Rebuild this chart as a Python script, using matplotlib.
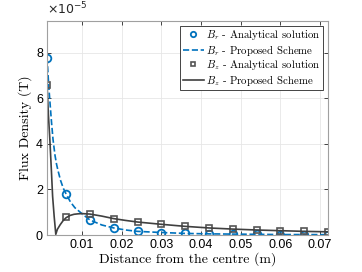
import numpy as np
import matplotlib
matplotlib.use("Agg")
import matplotlib.pyplot as plt

# analytical samples (r in m, B in 1e-5 T)
r_ana = [0.0012, 0.006, 0.012, 0.018, 0.024, 0.030, 0.036, 0.042,
         0.048, 0.054, 0.060, 0.066, 0.072]
br_ana = [7.78, 1.80, 0.64, 0.30, 0.16, 0.11, 0.07, 0.05,
          0.04, 0.03, 0.02, 0.02, 0.015]
bz_ana = [6.60, 0.78, 0.92, 0.72, 0.57, 0.48, 0.38, 0.31,
          0.26, 0.22, 0.19, 0.16, 0.14]

# proposed scheme curves
r_br = [0.0012, 0.0016, 0.0019, 0.0023, 0.0027, 0.0032, 0.0036, 0.004,
        0.0046, 0.0053, 0.006, 0.0071, 0.0082, 0.0099, 0.012, 0.015,
        0.018, 0.021, 0.024, 0.030, 0.036, 0.042, 0.048, 0.054, 0.060,
        0.066, 0.072]
br_sch = [7.80, 6.60, 5.90, 5.00, 4.20, 3.50, 3.10, 2.80,
          2.40, 2.05, 1.80, 1.45, 1.20, 0.95, 0.66, 0.44,
          0.31, 0.22, 0.16, 0.11, 0.07, 0.05, 0.04, 0.03, 0.02,
          0.02, 0.015]
r_bz = [0.0012, 0.0015, 0.0019, 0.0023, 0.0026, 0.0030, 0.0034, 0.0038,
        0.0045, 0.0052, 0.006, 0.007, 0.008, 0.009, 0.010, 0.012, 0.015,
        0.018, 0.021, 0.024, 0.030, 0.036, 0.042, 0.048, 0.054, 0.060,
        0.066, 0.072]
bz_sch = [6.60, 5.40, 4.20, 2.80, 1.70, 0.80, 0.03, 0.25,
          0.45, 0.62, 0.76, 0.86, 0.91, 0.93, 0.94, 0.92, 0.83,
          0.72, 0.64, 0.57, 0.47, 0.38, 0.31, 0.26, 0.22, 0.19,
          0.16, 0.14]

labels = [r"$B_r$ - Analytical solution", r"$B_r$ - Proposed Scheme",
          r"$B_z$ - Analytical solution", r"$B_z$ - Proposed Scheme"]

blue = "#0072BD"
grey = "#404040"

plt.rcParams["mathtext.fontset"] = "cm"
plt.rcParams["font.family"] = "Liberation Sans"
plt.rcParams["axes.unicode_minus"] = False

fig = plt.figure(figsize=(3.62, 2.72), dpi=100)
ax = fig.add_axes([0.130, 0.136, 0.776, 0.787])

sc = 1e-5
ax.plot(r_ana, np.array(br_ana) * sc, "o", ls="none", mfc="none",
        mec=blue, mew=1.3, ms=5.5, label=labels[0])
ax.plot(r_br, np.array(br_sch) * sc, "--", color=blue, lw=1.2, label=labels[1])
ax.plot(r_ana, np.array(bz_ana) * sc, "s", ls="none", mfc="none",
        mec="#555555", mew=1.2, ms=4.5, label=labels[2])
ax.plot(r_bz, np.array(bz_sch) * sc, "-", color=grey, lw=1.2, label=labels[3])

ax.set_xlim(0.0012, 0.072)
ax.set_ylim(0, 9.4e-5)
ax.set_xticks([0.01, 0.02, 0.03, 0.04, 0.05, 0.06, 0.07])
ax.set_xticklabels(["0.01", "0.02", "0.03", "0.04", "0.05", "0.06", "0.07"])
ax.set_yticks([0, 2e-5, 4e-5, 6e-5, 8e-5])
ax.set_yticklabels(["0", "2", "4", "6", "8"])
ax.tick_params(direction="in", top=True, right=True, labelsize=9,
               length=3, width=0.6, color="#262626", pad=3)
ax.grid(True, color="#e6e6e6", lw=0.6)
ax.set_axisbelow(True)
for s in ax.spines.values():
    s.set_color("#a0a0a0")
    s.set_linewidth(0.8)

ax.text(0.0, 1.015, r"$\times 10^{-5}$", transform=ax.transAxes,
        fontsize=9, ha="left", va="bottom",
        math_fontfamily="dejavusans", color="#262626")

ax.set_xlabel("Distance from the centre (m)", family="cmr10", fontsize=10, labelpad=1)
ax.set_ylabel("Flux Density (T)", family="cmr10", fontsize=10, labelpad=3)

leg = ax.legend(loc="upper right", prop={"family": "cmr10", "size": 7.8},
                handlelength=2.0, handletextpad=0.2, borderpad=0.2,
                labelspacing=0.05, borderaxespad=0.45, fancybox=False,
                framealpha=1, markerscale=0.7)
leg.get_frame().set_edgecolor("#262626")
leg.get_frame().set_linewidth(0.6)

fig.savefig("out.png", dpi=100)
